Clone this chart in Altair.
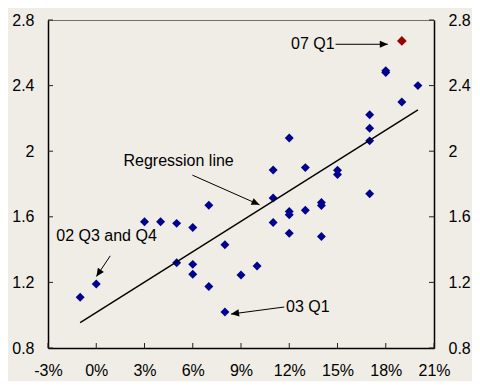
import altair as alt
import pandas as pd

# Scatter data: earnings growth (%, x) vs ratio (y)
growth = [-1, 0, 3, 4, 5, 6, 7, 5, 6, 6, 7, 8, 8, 9, 10, 11, 11, 11, 12, 12, 12, 12,
          13, 13, 14, 14, 14, 15, 15, 17, 17, 17, 17, 18, 18, 19, 20]
ratio = [1.11, 1.19, 1.57, 1.57, 1.56, 1.535, 1.67, 1.32, 1.31, 1.25, 1.175, 1.43, 1.02,
         1.245, 1.30, 1.885, 1.715, 1.565, 2.08, 1.633, 1.613, 1.50, 1.90, 1.64, 1.687,
         1.669, 1.48, 1.884, 1.858, 2.222, 2.14, 2.063, 1.74, 2.49, 2.48, 2.30, 2.40]

# Highlighted point 07 Q1
hl_growth = [19]
hl_ratio = [2.672]

# Regression line endpoints
reg_x = [-1, 20]
reg_y = [0.955, 2.252]

# Annotations (centered)
ann_text = ["07 Q1", "Regression line", "02 Q3 and Q4"]
ann_x = [13.47, 5.12, 0.64]
ann_y = [2.652, 1.939, 1.481]
# Annotation (left-aligned)
ann2_text = ["03 Q1"]
ann2_x = [11.8]
ann2_y = [1.047]

arr_x0 = [14.88, 5.98, 0.87, 11.69]
arr_y0 = [2.652, 1.854, 1.362, 1.05]
arr_x1 = [18.13, 10.15, 0.01, 8.38]
arr_y1 = [2.652, 1.673, 1.236, 1.007]
arr_angle = [90, 114, 214, 262]

x_ticks = [-3, 0, 3, 6, 9, 12, 15, 18, 21]
y_ticks = [0.8, 1.2, 1.6, 2, 2.4, 2.8]

W, H = 386, 328
FONT = "Liberation Sans, Arial, sans-serif"
FS = 16

xscale = alt.Scale(domain=[-3, 21], nice=False, zero=False)
yscale = alt.Scale(domain=[0.8, 2.8], nice=False, zero=False)

pts = pd.DataFrame({"g": growth, "r": ratio})
hl = pd.DataFrame({"g": hl_growth, "r": hl_ratio})
reg = pd.DataFrame({"g": reg_x, "r": reg_y})
ann = pd.DataFrame({"t": ann_text, "g": ann_x, "r": ann_y})
ann2 = pd.DataFrame({"t": ann2_text, "g": ann2_x, "r": ann2_y})
arr = pd.DataFrame({"x0": arr_x0, "y0": arr_y0, "x1": arr_x1, "y1": arr_y1, "ang": arr_angle})
xt = pd.DataFrame({"v": x_ticks})
yt = pd.DataFrame({"v": y_ticks})

axis_common = dict(domainColor="black", domainWidth=1.5, ticks=False, tickSize=0,
                   grid=False, labelFont=FONT, labelFontSize=FS, labelColor="black",
                   title="")

points = alt.Chart(pts).mark_point(shape="diamond", filled=True, size=80,
                                   color="#00008f", opacity=1).encode(
    x=alt.X("g:Q", scale=xscale,
            axis=alt.Axis(values=x_ticks, orient="bottom", labelExpr="datum.value + '%'",
                          labelPadding=14, labelFlush=False, **axis_common)),
    y=alt.Y("r:Q", scale=yscale,
            axis=alt.Axis(values=y_ticks, orient="left", labelExpr="datum.value + ''",
                          labelPadding=14, **axis_common)),
)

red = alt.Chart(hl).mark_point(shape="diamond", filled=True, size=95,
                               color="#990000", opacity=1).encode(
    x=alt.X("g:Q", scale=xscale, axis=None),
    y=alt.Y("r:Q", scale=yscale,
            axis=alt.Axis(values=y_ticks, orient="right", labelExpr="datum.value + ''",
                          labelPadding=14, **axis_common)),
)

regline = alt.Chart(reg).mark_line(color="black", strokeWidth=1.4).encode(
    x=alt.X("g:Q", scale=xscale, axis=None),
    y=alt.Y("r:Q", scale=yscale, axis=None),
)

texts = alt.Chart(ann).mark_text(font=FONT, fontSize=FS, color="black",
                                 baseline="middle", align="center").encode(
    x=alt.X("g:Q", scale=xscale, axis=None),
    y=alt.Y("r:Q", scale=yscale, axis=None),
    text="t:N",
)
texts2 = alt.Chart(ann2).mark_text(font=FONT, fontSize=FS, color="black",
                                   baseline="middle", align="left").encode(
    x=alt.X("g:Q", scale=xscale, axis=None),
    y=alt.Y("r:Q", scale=yscale, axis=None),
    text="t:N",
)

arrows = alt.Chart(arr).mark_rule(color="black", strokeWidth=1).encode(
    x=alt.X("x0:Q", scale=xscale, axis=None),
    y=alt.Y("y0:Q", scale=yscale, axis=None),
    x2="x1:Q",
    y2="y1:Q",
)

heads = alt.Chart(arr).mark_point(shape="M0,0L-0.45,1L0.45,1Z", filled=True,
                                  size=256, color="black", opacity=1).encode(
    x=alt.X("x1:Q", scale=xscale, axis=None),
    y=alt.Y("y1:Q", scale=yscale, axis=None),
    angle=alt.Angle("ang:Q", scale=None),
)

xtick = alt.Chart(xt).mark_rule(color="#222", strokeWidth=1).encode(
    x=alt.X("v:Q", scale=xscale, axis=None),
    y=alt.value(H), y2=alt.value(H - 5),
)
ytick_l = alt.Chart(yt).mark_rule(color="#222", strokeWidth=1).encode(
    y=alt.Y("v:Q", scale=yscale, axis=None),
    x=alt.value(0), x2=alt.value(5),
)
ytick_r = alt.Chart(yt).mark_rule(color="#222", strokeWidth=1).encode(
    y=alt.Y("v:Q", scale=yscale, axis=None),
    x=alt.value(W), x2=alt.value(W - 5),
)

chart = alt.layer(
    points, regline, arrows, heads, texts, texts2, xtick, ytick_l, ytick_r, red
).resolve_axis(x="independent", y="independent").properties(
    width=W, height=H,
    padding={"left": 40, "top": 12, "right": 38, "bottom": 33},
    autosize="none",
    background="#f0ede6",
).configure_view(stroke="#707070", strokeWidth=1)

chart.save("out.html", embed_options={"renderer": "svg", "actions": False})
